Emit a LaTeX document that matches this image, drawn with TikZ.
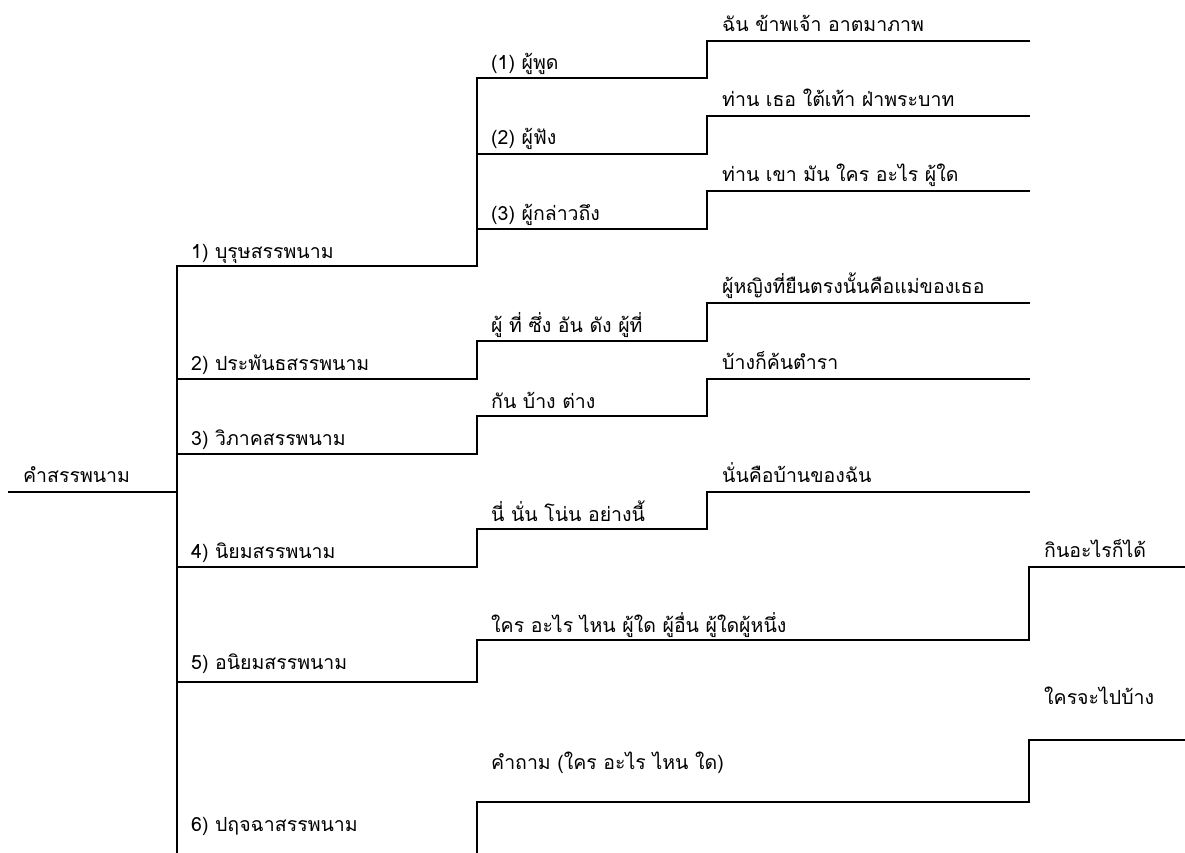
\documentclass[tikz,border=0pt]{standalone}
\usepackage{fontspec}
\newfontfamily\thaifont[Script=Thai]{Loma}
\begin{document}
\begin{tikzpicture}[x=1pt,y=-1pt,
  branch/.style={line width=1.6pt,line cap=rect},
  lbl/.style={anchor=base west,inner sep=0pt,font=\thaifont\fontsize{19.5}{22}\selectfont}]
\useasboundingbox (0,0) rectangle (1185,853);
% root and trunk
\coordinate (r0) at (9,492);
\coordinate (r1) at (177,492);
% first level ends
\coordinate (a1) at (477,266);
\coordinate (a2) at (477,379);
\coordinate (a3) at (477,454);
\coordinate (a4) at (477,567);
\coordinate (a5) at (477,682);
\coordinate (a6) at (477,862);
% second level ends
\coordinate (b11) at (707,78);
\coordinate (b12) at (707,154);
\coordinate (b13) at (707,229);
\coordinate (b2) at (707,341);
\coordinate (b3) at (707,416);
\coordinate (b4) at (707,529);
\coordinate (b5) at (1029,640);
\coordinate (b6) at (1029,802);
% third level ends
\coordinate (c11) at (1029,41);
\coordinate (c12) at (1029,116);
\coordinate (c13) at (1029,191);
\coordinate (c2) at (1029,303);
\coordinate (c3) at (1029,379);
\coordinate (c4) at (1029,492);
\coordinate (c5) at (1185,567);
\coordinate (c6) at (1185,740);

\draw[branch] (r0) -- (r1);
\foreach \k in {a1,a2,a3,a4,a5,a6} \draw[branch] (r1) |- (\k);
\foreach \k in {b11,b12,b13} \draw[branch] (a1) |- (\k);
\draw[branch] (a2) |- (b2);
\draw[branch] (a3) |- (b3);
\draw[branch] (a4) |- (b4);
\draw[branch] (a5) |- (b5);
\draw[branch] (a6) |- (b6);
\draw[branch] (b11) |- (c11);
\draw[branch] (b12) |- (c12);
\draw[branch] (b13) |- (c13);
\draw[branch] (b2) |- (c2);
\draw[branch] (b3) |- (c3);
\draw[branch] (b4) |- (c4);
\draw[branch] (b5) |- (c5);
\draw[branch] (b6) |- (c6);

% labels
\node[lbl] (t0) at (23,482) {คำสรรพนาม};
\node[lbl] (t1) at (191,258) {1) บุรุษสรรพนาม};
\node[lbl] (t2) at (191,370) {2) ประพันธสรรพนาม};
\node[lbl] (t3) at (191,445) {3) วิภาคสรรพนาม};
\node[lbl] (t4) at (191,558) {4) นิยมสรรพนาม};
\node[lbl] (t5) at (191,669) {5) อนิยมสรรพนาม};
\node[lbl] (t6) at (191,831) {6) ปฤจฉาสรรพนาม};
\node[lbl] (u11) at (491,70) {(1) ผู้พูด};
\node[lbl] (u12) at (491,145) {(2) ผู้ฟัง};
\node[lbl] (u13) at (491,220) {(3) ผู้กล่าวถึง};
\node[lbl] (u2) at (491,332) {ผู้ ที่ ซึ่ง อัน ดัง ผู้ที่};
\node[lbl] (u3) at (491,408) {กัน บ้าง ต่าง};
\node[lbl] (u4) at (491,521) {นี่ นั่น โน่น อย่างนี้};
\node[lbl] (u5) at (491,632) {ใคร อะไร ไหน ผู้ใด ผู้อื่น ผู้ใดผู้หนึ่ง};
\node[lbl] (u6) at (491,769) {คำถาม (ใคร อะไร ไหน ใด)};
\node[lbl] (v11) at (722,32) {ฉัน ข้าพเจ้า อาตมาภาพ};
\node[lbl] (v12) at (722,107) {ท่าน เธอ ใต้เท้า ฝ่าพระบาท};
\node[lbl] (v13) at (722,182) {ท่าน เขา มัน ใคร อะไร ผู้ใด};
\node[lbl] (v2) at (722,293) {ผู้หญิงที่ยืนตรงนั้นคือแม่ของเธอ};
\node[lbl] (v3) at (722,369) {บ้างก็ค้นตำรา};
\node[lbl] (v4) at (722,482) {นั่นคือบ้านของฉัน};
\node[lbl] (w5) at (1044,557) {กินอะไรก็ได้};
\node[lbl] (w6) at (1044,704) {ใครจะไปบ้าง};
\end{tikzpicture}
\end{document}
